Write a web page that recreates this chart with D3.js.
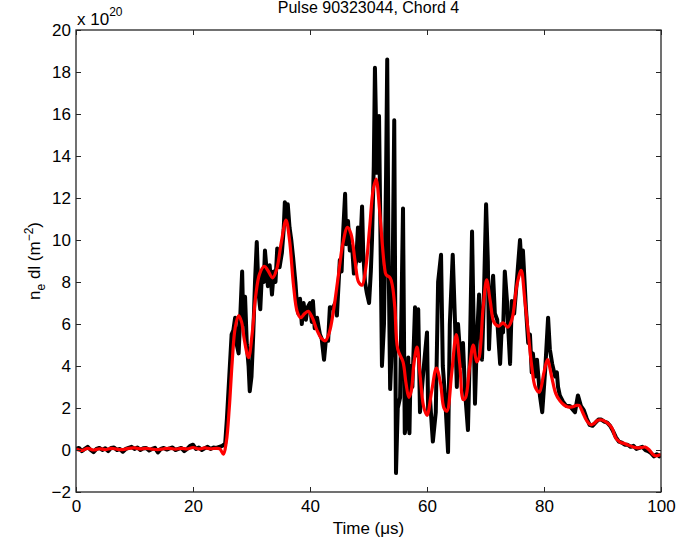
<!DOCTYPE html>
<html><head><meta charset="utf-8">
<script src="https://cdn.jsdelivr.net/npm/d3@7/dist/d3.min.js"></script>
<style>body{margin:0;background:#fff}svg{display:block}text{font-family:"Liberation Sans",Arial,sans-serif;fill:#000}</style>
</head><body><svg id="c" width="681" height="542"></svg>
<script>
// Raw signal (black): time in µs, line density in 1e20 m^-2
const rawTime = [0,0.5,1,1.5,2,2.5,3,3.5,4,4.5,5,5.5,6,6.5,7,7.5,8,8.5,9,9.5,10,10.5,11,11.5,12,12.5,13,13.5,14,14.5,15,15.5,16,16.5,17,17.5,18,18.5,19,19.5,20,20.5,21,21.5,22,22.5,23,23.5,24,24.5,25,
25.5,25.8,26.2,26.6,26.9,27.2,27.5,27.8,28.1,28.4,28.6,28.9,29.2,29.5,29.7,30.0,30.3,30.6,30.9,31.2,31.5,31.8,32.1,32.3,32.6,32.8,33.1,33.5,33.8,34.1,34.4,34.8,35.2,35.5,35.7,36.0,36.2,36.5,36.8,37.1,37.5,37.8,38.0,38.3,38.6,38.9,39.3,39.6,40.0,40.3,40.5,40.8,41.2,41.5,41.7,42.0,42.4,42.7,43.1,43.4,43.9,44.3,44.6,45.1,45.4,45.6,46.0,46.2,46.5,46.8,47.2,47.5,47.9,48.2,48.5,48.9,49.1,49.4,49.7,50.1,50.4,50.6,50.9,51.1,51.45,51.8,52.05,52.3,52.65,53.0,53.2,53.4,53.7,54.0,54.4,54.55,54.7,55.0,55.4,55.9,56.2,56.6,56.8,57.0,57.2,57.5,57.95,58.3,58.5,58.8,59.3,60.0,60.2,60.5,61.0,61.5,61.9,62.4,62.7,63.1,63.6,63.9,64.4,64.8,65.1,65.3,65.8,66.15,66.5,67.0,67.35,67.7,68.2,68.5,68.9,69.4,69.7,70.1,70.4,70.6,70.9,71.3,71.6,72.0,72.5,72.8,73.0,73.3,73.7,73.85,74.2,74.5,74.9,75.4,75.9,76.2,76.4,76.9,77.3,77.6,77.9,78.1,78.5,78.8,79.3,79.7,80.2,80.7,81.0,81.4,81.9,82.2,82.4,82.7,83.25,83.8,84.4,85.0,85.3,85.8,
86.3,86.8,87.3,87.8,88.3,88.8,89.3,89.8,90.3,90.8,91.3,91.8,92.3,92.8,93.3,93.8,94.3,94.8,95.3,95.8,96.3,96.8,97.3,97.8,98.3,98.8,99.3,99.7,100];
const rawDensity = [0.05,0.1,-0.05,0.05,0.15,0.0,-0.1,0.05,0.1,0.0,0.08,-0.05,0.1,0.12,0.0,0.05,-0.08,0.05,0.1,0.15,0.05,0.12,0.0,0.08,0.1,-0.02,0.05,0.1,-0.12,0.05,0.1,0.02,0.08,0.12,0.0,0.05,0.1,-0.05,0.05,0.2,0.25,0.05,0.12,0.0,0.08,0.15,0.05,0.12,0.1,0.15,0.2,
0.3,1.5,3.5,5.5,5.7,6.3,5.0,4.6,6.5,8.5,6.0,7.3,5.0,4.0,2.8,3.5,5.5,8.0,9.9,7.5,6.7,8.5,8.0,9.5,8.5,7.8,8.8,7.4,8.5,8.0,9.6,8.7,9.4,10.5,11.8,10.9,11.7,10.6,10.0,9.2,8.0,6.8,6.5,7.2,6.0,7.0,6.2,6.8,7.0,6.1,7.1,5.8,6.3,5.8,5.5,5.3,4.3,5.2,5.2,6.8,6.75,7.0,6.4,9.05,8.5,10.0,12.2,9.8,10.9,9.5,9.7,8.4,9.0,10.6,9.0,11.6,9.4,8.0,7.5,7.0,8.5,10.0,13.5,18.2,13.2,15.9,10.0,4.0,6.0,13.0,18.6,10.0,2.9,5.0,15.7,8.0,-1.1,2.0,2.5,11.5,0.8,1.4,4.4,0.8,4.0,3.0,6.8,4.5,6.7,1.8,3.5,5.6,1.8,2.5,0.4,1.8,8.0,9.3,4.0,2.5,-0.1,6.0,9.3,6.0,3.0,6.0,4.0,5.1,2.8,0.95,5.0,10.4,2.2,5.0,7.4,4.3,7.0,11.7,9.0,4.8,7.0,8.3,6.5,6.2,4.1,6.0,5.6,8.5,7.0,6.0,4.1,7.1,6.5,8.2,10.0,8.5,9.5,6.8,5.1,5.5,3.7,4.6,3.5,4.3,2.6,1.8,3.8,6.3,4.8,4.1,3.5,3.7,3.0,2.6,2.3,2.1,2.1,1.9,1.8,2.6,
2.1,1.9,1.5,1.2,1.15,1.3,1.45,1.45,1.35,1.3,1.15,0.9,0.6,0.4,0.35,0.25,0.25,0.15,0.2,0.05,0.1,0.15,0.0,-0.05,-0.15,-0.3,-0.2,-0.3,-0.2];

// Smoothed signal (red)
const smoothTime = [0,1,2,3,4,5,6,7,8,9,10,11,12,13,14,15,16,17,18,19,20,21,22,23,24,24.6,25.2,25.7,26.2,26.7,27.2,27.8,28.3,28.8,29.5,30.1,30.7,31.4,32.2,32.8,33.6,34.3,35.1,35.9,36.5,37.2,37.8,38.4,39.1,39.7,40.4,41.2,42.0,42.6,43.3,44.0,44.8,45.6,46.4,47.0,47.7,48.3,48.9,49.5,50.2,50.8,51.3,51.9,52.3,52.7,53.0,53.7,54.1,54.5,55.0,55.9,56.4,56.9,57.3,57.8,58.3,58.8,59.4,60.0,60.8,61.6,62.3,62.9,63.4,64.2,65.0,65.6,66.2,66.6,67.3,67.9,68.5,68.9,69.6,70.2,70.8,71.5,72.3,73.0,73.8,74.5,75.4,76.1,76.7,77.3,77.9,78.5,79.2,80.0,80.6,81.3,82.0,82.7,83.4,84.1,84.8,85.5,86.0,86.6,87.3,88.0,88.5,89.2,89.9,90.5,91.2,91.7,92.3,93.0,93.8,94.5,95.2,96.0,96.7,97.3,98.0,98.6,99.1,99.6,100];
const smoothDensity = [0.05,-0.02,0.08,0.0,0.06,0.02,0.08,0.04,0.02,0.08,0.1,0.05,0.08,0.04,0.02,0.06,0.08,0.04,0.08,0.05,0.12,0.05,0.1,0.06,0.08,0.05,-0.2,0.4,2.0,4.2,5.8,6.4,6.1,5.2,4.4,5.5,7.3,8.4,8.75,8.55,8.2,8.6,9.9,10.95,10.0,7.8,6.6,6.3,6.5,6.6,6.3,5.7,5.3,5.2,5.6,6.6,8.2,9.8,10.6,10.3,9.0,8.0,7.85,8.6,10.6,12.4,12.9,11.4,10.0,8.8,8.35,8.2,7.8,6.8,4.8,4.2,3.2,2.5,2.8,4.2,4.9,3.6,2.1,1.65,2.8,3.9,3.2,2.0,1.85,3.6,5.5,4.1,2.4,2.5,4.0,5.0,4.2,4.4,6.8,8.1,7.1,6.05,5.9,6.05,5.85,6.2,7.9,8.55,7.2,5.6,4.0,3.0,2.75,3.7,4.3,3.5,2.7,2.35,2.15,2.05,2.05,2.12,2.12,1.8,1.4,1.2,1.25,1.42,1.43,1.35,1.2,1.0,0.55,0.38,0.3,0.22,0.15,0.1,0.12,0.14,0.0,-0.2,-0.28,-0.25,-0.22];

const xTicks = [0,20,40,60,80,100];
const yTicks = [-2,0,2,4,6,8,10,12,14,16,18,20];
const titleText = "Pulse 90323044, Chord 4";

const svg = d3.select("#c");
const L=76, R=661, T=30, B=492;
const x = d3.scaleLinear().domain([0,100]).range([L,R]);
const y = d3.scaleLinear().domain([-2,20]).range([B,T]);

const line = d3.line().x(d=>x(d[0])).y(d=>y(d[1]));
const raw = rawTime.map((t,i)=>[t,rawDensity[i]]);
const sm = smoothTime.map((t,i)=>[t,smoothDensity[i]]);

svg.append("clipPath").attr("id","cp").append("rect").attr("x",L).attr("y",T).attr("width",R-L).attr("height",B-T);
const g = svg.append("g").attr("clip-path","url(#cp)");
g.append("path").datum(raw).attr("d",line).attr("fill","none").attr("stroke","#000").attr("stroke-width",4).attr("stroke-linejoin","round");
g.append("path").datum(sm).attr("d",d3.line().curve(d3.curveCatmullRom.alpha(0.5)).x(d=>x(d[0])).y(d=>y(d[1]))).attr("fill","none").attr("stroke","#ff0000").attr("stroke-width",3.2).attr("stroke-linejoin","round");

function styleAxis(sel){
  sel.select(".domain").remove();
  sel.selectAll(".tick line").attr("stroke","#262626");
  sel.selectAll("text").style("font-size","17px").style("font-family","'Liberation Sans',Arial,sans-serif").attr("fill","#000");
}
svg.append("g").attr("transform",`translate(0,${B})`).call(d3.axisBottom(x).tickValues(xTicks).tickSize(-5).tickPadding(8).tickFormat(d3.format("d"))).call(styleAxis);
svg.append("g").attr("transform",`translate(0,${T})`).call(d3.axisTop(x).tickValues(xTicks).tickSize(-5).tickFormat("")).call(styleAxis);
svg.append("g").attr("transform",`translate(${L},0)`).call(d3.axisLeft(y).tickValues(yTicks).tickSize(-5).tickPadding(5).tickFormat(d=>d<0?"\u2212"+Math.abs(d):d)).call(styleAxis);
svg.append("g").attr("transform",`translate(${R},0)`).call(d3.axisRight(y).tickValues(yTicks).tickSize(-5).tickFormat("")).call(styleAxis);

svg.append("rect").attr("x",L).attr("y",T).attr("width",R-L).attr("height",B-T).attr("fill","none").attr("stroke","#262626").attr("stroke-width",1.3);

svg.append("text").attr("x",(L+R)/2).attr("y",13).attr("text-anchor","middle").style("font-size","16px").text(titleText);
const ex = svg.append("text").attr("x",77).attr("y",25).style("font-size","17px");
ex.append("tspan").text("x 10");
ex.append("tspan").attr("dy",-9).style("font-size","12px").text("20");

svg.append("text").attr("x",(L+R)/2).attr("y",534).attr("text-anchor","middle").style("font-size","17px").text("Time (\u03bcs)");

const yl = svg.append("text").attr("transform",`translate(40,${(T+B)/2}) rotate(-90)`).attr("text-anchor","middle").style("font-size","17px");
yl.append("tspan").text("n");
yl.append("tspan").attr("dy",5).style("font-size","12px").text("e");
yl.append("tspan").attr("dy",-5).text(" dl (m");
yl.append("tspan").attr("dy",-7).style("font-size","12px").text("\u22122");
yl.append("tspan").attr("dy",7).text(")");
</script></body></html>
